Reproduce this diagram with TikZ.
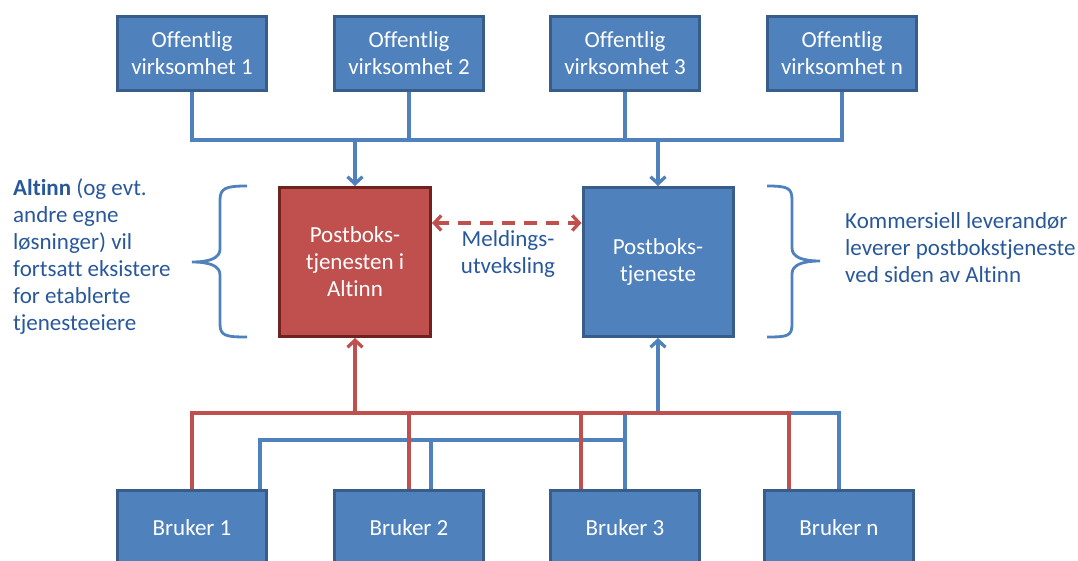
\documentclass[tikz,border=0pt]{standalone}
\usepackage{fontspec}
\setmainfont{Carlito}[Ligatures={NoCommon}]
\usetikzlibrary{arrows.meta}
\usetikzlibrary{calc}

\definecolor{boxfill}{RGB}{79,129,189}
\definecolor{boxrim}{RGB}{56,93,138}
\definecolor{redfill}{RGB}{192,80,77}
\definecolor{redrim}{RGB}{110,35,33}
\definecolor{notecol}{RGB}{40,88,155}

\begin{document}
\begin{tikzpicture}[x=1pt,y=-1pt,>={Straight Barb[length=7pt,width=15pt]},
  every node/.style={font=\fontsize{23}{27}\selectfont},
  boxblue/.style={draw=boxrim,fill=boxfill,line width=3pt,text=white,align=center,minimum width=149pt,minimum height=74pt,inner sep=0pt},
  boxred/.style={boxblue,draw=redrim,fill=redfill},
  bline/.style={draw=boxfill,line width=3.3pt},
  rline/.style={draw=redfill,line width=3.3pt},
  note/.style={text=notecol,align=left,inner sep=0pt}]
\useasboundingbox (0,0) rectangle (1078,561);
\node[boxblue] (off1) at (192,53.5){Offentlig\\virksomhet 1};
\node[boxblue] (off2) at (409,53.5){Offentlig\\virksomhet 2};
\node[boxblue] (off3) at (625,53.5){Offentlig\\virksomhet 3};
\node[boxblue] (offn) at (842,53.5){Offentlig\\virksomhet n};
\node[boxred,minimum width=151pt,minimum height=149pt] (altinn) at (355,262){Postboks-\\tjenesten i\\Altinn};
\node[boxblue,minimum width=150pt,minimum height=149pt] (post) at (658,262){Postboks-\\tjeneste};
\node[boxblue] (bru1) at (192,527.5){Bruker 1};
\node[boxblue] (bru2) at (409,527.5){Bruker 2};
\node[boxblue] (bru3) at (625,527.5){Bruker 3};
\node[boxblue] (brun) at (839,527.5){Bruker n};
\node[note,anchor=west] (left) at (13,256.5){\textbf{Altinn} (og evt.\\andre egne\\løsninger) vil\\fortsatt eksistere\\for etablerte\\tjenesteeiere};
\node[note,anchor=west] (right) at (845,248){Kommersiell leverandør\\leverer postbokstjeneste\\ved siden av Altinn};
\node[note,align=center] (meld) at (508,254){Meldings-\\utveksling};
% buses
\coordinate (tbus) at (0,140);
\coordinate (rbus) at (0,413);
\coordinate (bbus) at (0,440);
\coordinate (r3) at ([xshift=-44pt]bru3.north);
\coordinate (rn) at ([xshift=-50pt]brun.north);
\coordinate (b1) at ([xshift=68pt]bru1.north);
\coordinate (b2) at ([xshift=22pt]bru2.north);
\coordinate (dl) at ([yshift=39pt]altinn.east);
\coordinate (dr) at ([yshift=39pt]post.west);
% top
\draw[bline] (off1.south) |- (offn.south |- tbus) -- (offn.south);
\draw[bline] (off2.south) -- (off2.south |- tbus);
\draw[bline] (off3.south) -- (off3.south |- tbus);
\draw[bline,->] (altinn.north |- tbus) -- (altinn.north);
\draw[bline,->] (post.north |- tbus) -- (post.north);
% bottom
\draw[bline] (b1) |- (bru3.north |- bbus);
\draw[bline] (b2) -- (b2 |- bbus);
\draw[bline] (bru3.north) |- (brun.north |- rbus) -- (brun.north);
\draw[bline,->] (post.south |- rbus) -- (post.south);
\draw[rline] (bru1.north) |- (rn |- rbus) -- (rn);
\draw[rline] (bru2.north) -- (bru2.north |- rbus);
\draw[rline] (r3) -- (r3 |- rbus);
\draw[rline,->] (altinn.south |- rbus) -- (altinn.south);
\draw[rline,<->,dash pattern=on 13pt off 9pt] (dl) -- (dr);
% braces
\draw[bline,line width=2.8pt] (247,186) .. controls (226,186) and (220,188) .. (220,200) -- (220,249) .. controls (220,258) and (210,262) .. (192,262) .. controls (210,262) and (220,266) .. (220,275) -- (220,324) .. controls (220,336) and (226,337) .. (247,337);
\draw[bline,line width=2.8pt] (767,186) .. controls (788,186) and (792,188) .. (792,200) -- (792,248) .. controls (792,257) and (802,261) .. (820,261) .. controls (802,261) and (792,265) .. (792,274) -- (792,324) .. controls (792,336) and (788,337) .. (767,337);
\end{tikzpicture}
\end{document}
